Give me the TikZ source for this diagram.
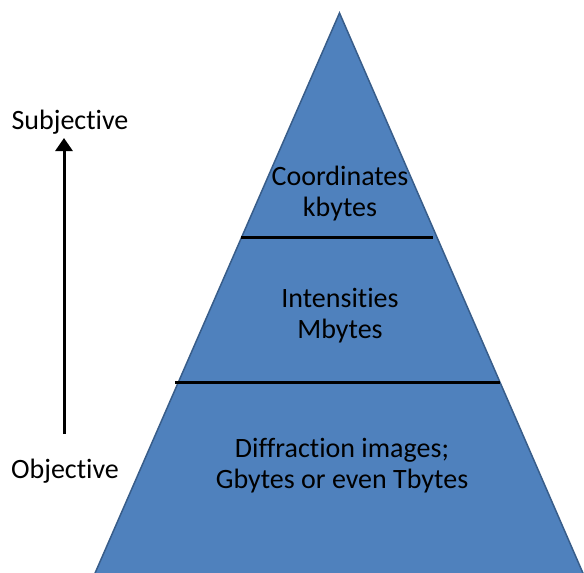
\documentclass[tikz,border=0pt]{standalone}
\usepackage{fontspec}
\setmainfont{Carlito}[Ligatures=NoCommon]
\usetikzlibrary{arrows.meta}
\definecolor{pyrfill}{HTML}{4F81BD}
\definecolor{pyredge}{HTML}{385D8A}
\begin{document}
\begin{tikzpicture}[x=1pt,y=-1pt,
  lbl/.style={font=\fontsize{28}{31}\selectfont, align=center, inner sep=0pt, anchor=base},
  divider/.style={line width=3pt, black},
  axisarrow/.style={line width=3pt, black, -{Triangle[length=13pt,width=17pt]}}]
\useasboundingbox (0,0) rectangle (584,573);
\coordinate (apex) at (339.5,13);
\coordinate (br) at (584,575.5);
\coordinate (bl) at (94,575.5);
\begin{scope}
\clip (0,0) rectangle (584,573);
\draw[fill=pyrfill, draw=pyredge, line width=1.5pt] (apex) -- (br) -- (bl) -- cycle;
\end{scope}
\coordinate (d1l) at (241,237);
\coordinate (d1r) at (433,237);
\coordinate (d2l) at (175,382);
\coordinate (d2r) at (500,382);
\draw[divider] (d1l) -- (d1r);
\draw[divider] (d2l) -- (d2r);
\node[lbl] (top) at (340,216) {Coordinates\\kbytes};
\node[lbl] (mid) at (340,338) {Intensities\\Mbytes};
\node[lbl] (bot) at (342,488) {Diffraction images;\\Gbytes or even Tbytes};
\node[lbl] (subj) at (70,129) {Subjective};
\node[lbl] (obj) at (65,478) {Objective};
\coordinate (atail) at (64,434);
\coordinate (ahead) at (64,138);
\draw[axisarrow] (atail) -- (ahead);
\end{tikzpicture}
\end{document}
